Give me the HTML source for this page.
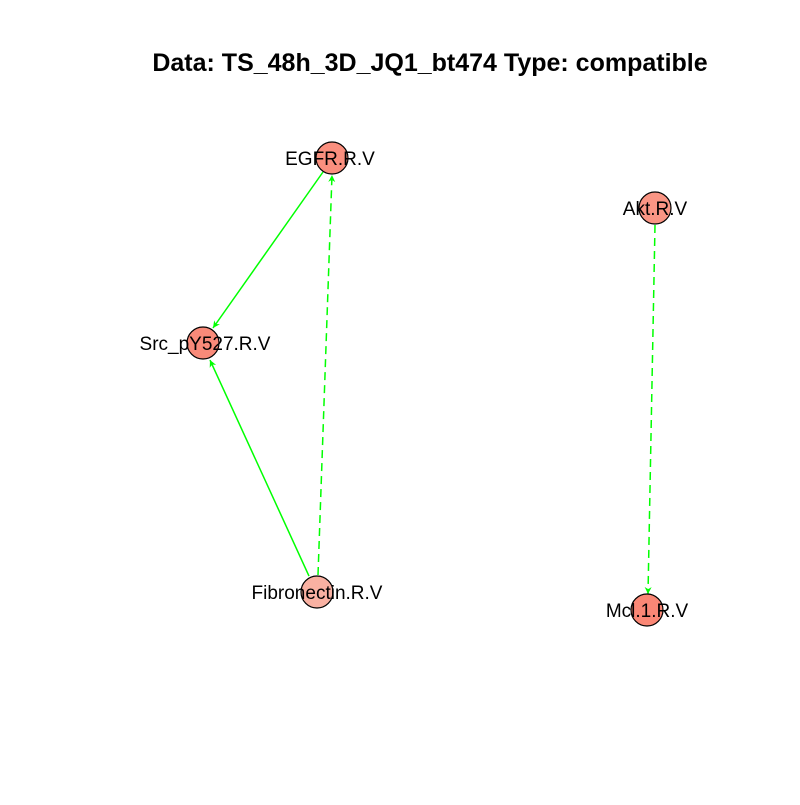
<!DOCTYPE html>
<html><head><style>body{margin:0;background:#fff}</style></head><body>
<svg width="800" height="800" xmlns="http://www.w3.org/2000/svg" font-family="Liberation Sans, sans-serif">
<defs>
<marker id="a" viewBox="0 0 10 10" refX="10" refY="5" markerWidth="7" markerHeight="12" orient="auto" markerUnits="userSpaceOnUse"><path d="M0,0 L10,5 L0,10 L3,5 z" fill="#00ff00"/></marker>
</defs>
<rect width="800" height="800" fill="#fff"/>
<text x="430" y="71" text-anchor="middle" font-size="25" font-weight="bold">Data: TS_48h_3D_JQ1_bt474 Type: compatible</text>
<g stroke="#00ff00" stroke-width="1.5" fill="none">
<line x1="323" y1="172" x2="213" y2="328" marker-end="url(#a)"/>
<line x1="309" y1="576" x2="210" y2="360" marker-end="url(#a)"/>
<line x1="318" y1="575" x2="332" y2="175" stroke-dasharray="8,5" marker-end="url(#a)"/>
<line x1="655" y1="225" x2="648" y2="594" stroke-dasharray="8,5" marker-end="url(#a)"/>
</g>
<g stroke="#000" stroke-width="1.2">
<circle cx="332" cy="158" r="16" fill="#fa8f7e"/>
<circle cx="655" cy="208" r="16" fill="#fa9584"/>
<circle cx="203" cy="343" r="16" fill="#f98a79"/>
<circle cx="317" cy="592" r="16" fill="#f9b1a2"/>
<circle cx="647" cy="610" r="16" fill="#fa8775"/>
</g>
<g font-size="19" text-anchor="middle" fill="#000">
<text x="330" y="165">EGFR.R.V</text>
<text x="655" y="215">Akt.R.V</text>
<text x="205" y="350">Src_pY527.R.V</text>
<text x="317" y="599">Fibronectin.R.V</text>
<text x="647" y="617">Mcl.1.R.V</text>
</g>
</svg>
</body></html>
